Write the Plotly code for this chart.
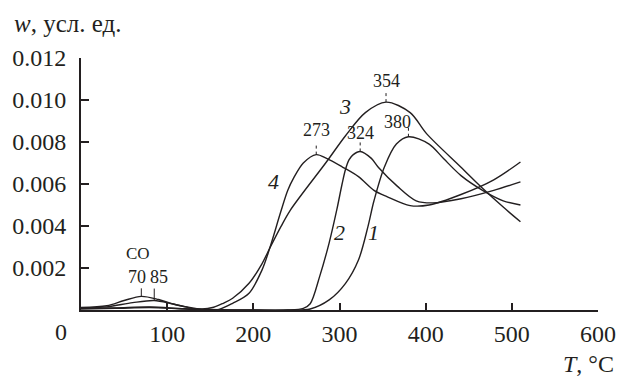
import plotly.graph_objects as go

# Temperature-programmed desorption rate curves, w (arb. units) vs T (°C)
T1 = [0, 40, 80, 120, 160, 200, 240, 266, 288, 307, 322, 333, 340, 352, 366, 380, 404, 421, 441, 466, 490, 510]
W1 = [0.00008, 0.0001, 0.00014, 0.00006, 0.00002, 0.0, 0.0, 0.00005, 0.00048, 0.00127, 0.00238, 0.00397,
      0.0052, 0.0068, 0.0079, 0.00825, 0.0079, 0.0072, 0.0064, 0.0057, 0.0052, 0.0050]

T2 = [0, 40, 80, 120, 160, 200, 240, 258, 266, 277, 288, 297, 303, 307, 311, 316, 324, 337, 345, 367, 389,
      408, 441, 479, 510]
W2 = [0.00005, 0.00008, 0.00012, 0.00005, 0.0, 0.0, 0.0, 0.00008, 0.0003, 0.0016, 0.0032, 0.0048, 0.0060,
      0.0067, 0.00715, 0.0074, 0.00755, 0.00722, 0.0068, 0.0059, 0.0052, 0.0051, 0.0053, 0.0057, 0.0061]

T3 = [0, 30, 50, 70, 90, 110, 140, 154, 165, 176, 195, 210, 219, 232, 243, 285, 307, 330, 354, 382, 401,
      441, 466, 490, 510]
W3 = [0.00012, 0.0002, 0.00045, 0.00065, 0.0005, 0.00025, 0.00005, 0.00013, 0.00032, 0.00056, 0.00127,
      0.0022, 0.00294, 0.00397, 0.00476, 0.00706, 0.0083, 0.0094, 0.0099, 0.0094, 0.0084, 0.0068, 0.0058,
      0.0049, 0.0042]

T4 = [0, 30, 60, 85, 105, 120, 140, 160, 176, 195, 210, 219, 232, 240, 247, 258, 273, 285, 303, 322, 340,
      355, 382, 404, 441, 479, 510]
W4 = [0.0001, 0.00015, 0.00035, 0.00045, 0.0003, 0.00016, 0.0, 0.00003, 0.00032, 0.0008, 0.0019, 0.00294,
      0.0047, 0.0057, 0.0063, 0.0070, 0.0074, 0.00722, 0.00682, 0.00635, 0.0057, 0.0054, 0.00497, 0.0050,
      0.0055, 0.0062, 0.00705]

curve_names = ["1", "2", "3", "4"]

# Peak maxima marked on the curves
peak_T = [273, 324, 354, 380]
peak_W = [0.0074, 0.00755, 0.0099, 0.00825]
co_T = [70, 85]
co_W = [0.00065, 0.00045]

x_ticks = [100, 200, 300, 400, 500, 600]
y_ticks = [0.002, 0.004, 0.006, 0.008, 0.010, 0.012]

INK = "#231f20"
FONT = "Liberation Serif, Times New Roman, Times, serif"

fig = go.Figure()
for t, w, name in zip([T1, T2, T3, T4], [W1, W2, W3, W4], curve_names):
    fig.add_trace(go.Scatter(x=t, y=w, mode="lines", name=name,
                             line=dict(color=INK, width=1.4, shape="spline", smoothing=0.9),
                             showlegend=False, hoverinfo="skip"))

# Curve numbers (italic)
num_pos = {"1": (340, 0.00371), "2": (300, 0.00371), "3": (306, 0.00967), "4": (223, 0.0061)}
for name in curve_names:
    x, y = num_pos[name]
    fig.add_annotation(x=x, y=y, text=f"<i>{name}</i>", showarrow=False,
                       font=dict(family=FONT, size=22, color=INK))

# Peak labels with dotted leader lines
leader_px = [12, 11, 12, 9]
label_shift = [(0, 25), (0, 18), (0, 21), (-11, 15)]
for t, w, lp, (dx, dy) in zip(peak_T, peak_W, leader_px, label_shift):
    fig.add_shape(type="line", xref="x", yref="y", ysizemode="pixel", yanchor=w,
                  x0=t, x1=t, y0=0, y1=lp, line=dict(color=INK, width=1, dash="dot"))
    fig.add_annotation(x=t, y=w, text=str(t), showarrow=False, xshift=dx, yshift=dy,
                       font=dict(family=FONT, size=18, color=INK))

# CO peaks: short solid ticks and labels
co_tick_px = [8, 12]
co_shift = [-4, 5]
for t, w, lp, dx in zip(co_T, co_W, co_tick_px, co_shift):
    fig.add_shape(type="line", xref="x", yref="y", ysizemode="pixel", yanchor=w,
                  x0=t, x1=t, y0=0, y1=lp, line=dict(color=INK, width=1))
    fig.add_annotation(x=t, y=0.00157, text=str(t), showarrow=False, xshift=dx,
                       font=dict(family=FONT, size=18, color=INK))
fig.add_annotation(x=66, y=0.00271, text="CO", showarrow=False,
                   font=dict(family=FONT, size=17, color=INK))

# Axis titles and origin label
fig.add_annotation(xref="paper", yref="paper", x=-0.133, y=1.135, xanchor="left", yanchor="middle",
                   text="<i>w</i>, усл. ед.", showarrow=False,
                   font=dict(family=FONT, size=25, color=INK))
fig.add_annotation(xref="paper", yref="paper", x=1.034, y=-0.215, xanchor="right", yanchor="middle",
                   text="<i>T</i>, °C", showarrow=False,
                   font=dict(family=FONT, size=24, color=INK))
fig.add_annotation(xref="paper", yref="paper", x=-0.038, y=-0.088, xanchor="center", yanchor="middle",
                   text="0", showarrow=False, font=dict(family=FONT, size=24, color=INK))

fig.update_xaxes(range=[0, 600], tickvals=x_ticks, ticktext=[str(v) for v in x_ticks],
                 ticks="inside", ticklen=7, tickwidth=2, tickcolor=INK,
                 showline=True, linewidth=2, linecolor=INK, showgrid=False, zeroline=False,
                 tickfont=dict(family=FONT, size=24, color=INK), ticklabelstandoff=1)
fig.update_yaxes(range=[0, 0.012], tickvals=y_ticks, ticktext=[f"{v:.3f}" for v in y_ticks],
                 ticks="inside", ticklen=8, tickwidth=2, tickcolor=INK,
                 showline=True, linewidth=2, linecolor=INK, showgrid=False, zeroline=False,
                 tickfont=dict(family=FONT, size=24, color=INK), ticklabelstandoff=8)

fig.update_layout(width=628, height=376, margin=dict(l=79, r=21, t=58, b=66),
                  plot_bgcolor="white", paper_bgcolor="white")

fig.write_html("out.html")
